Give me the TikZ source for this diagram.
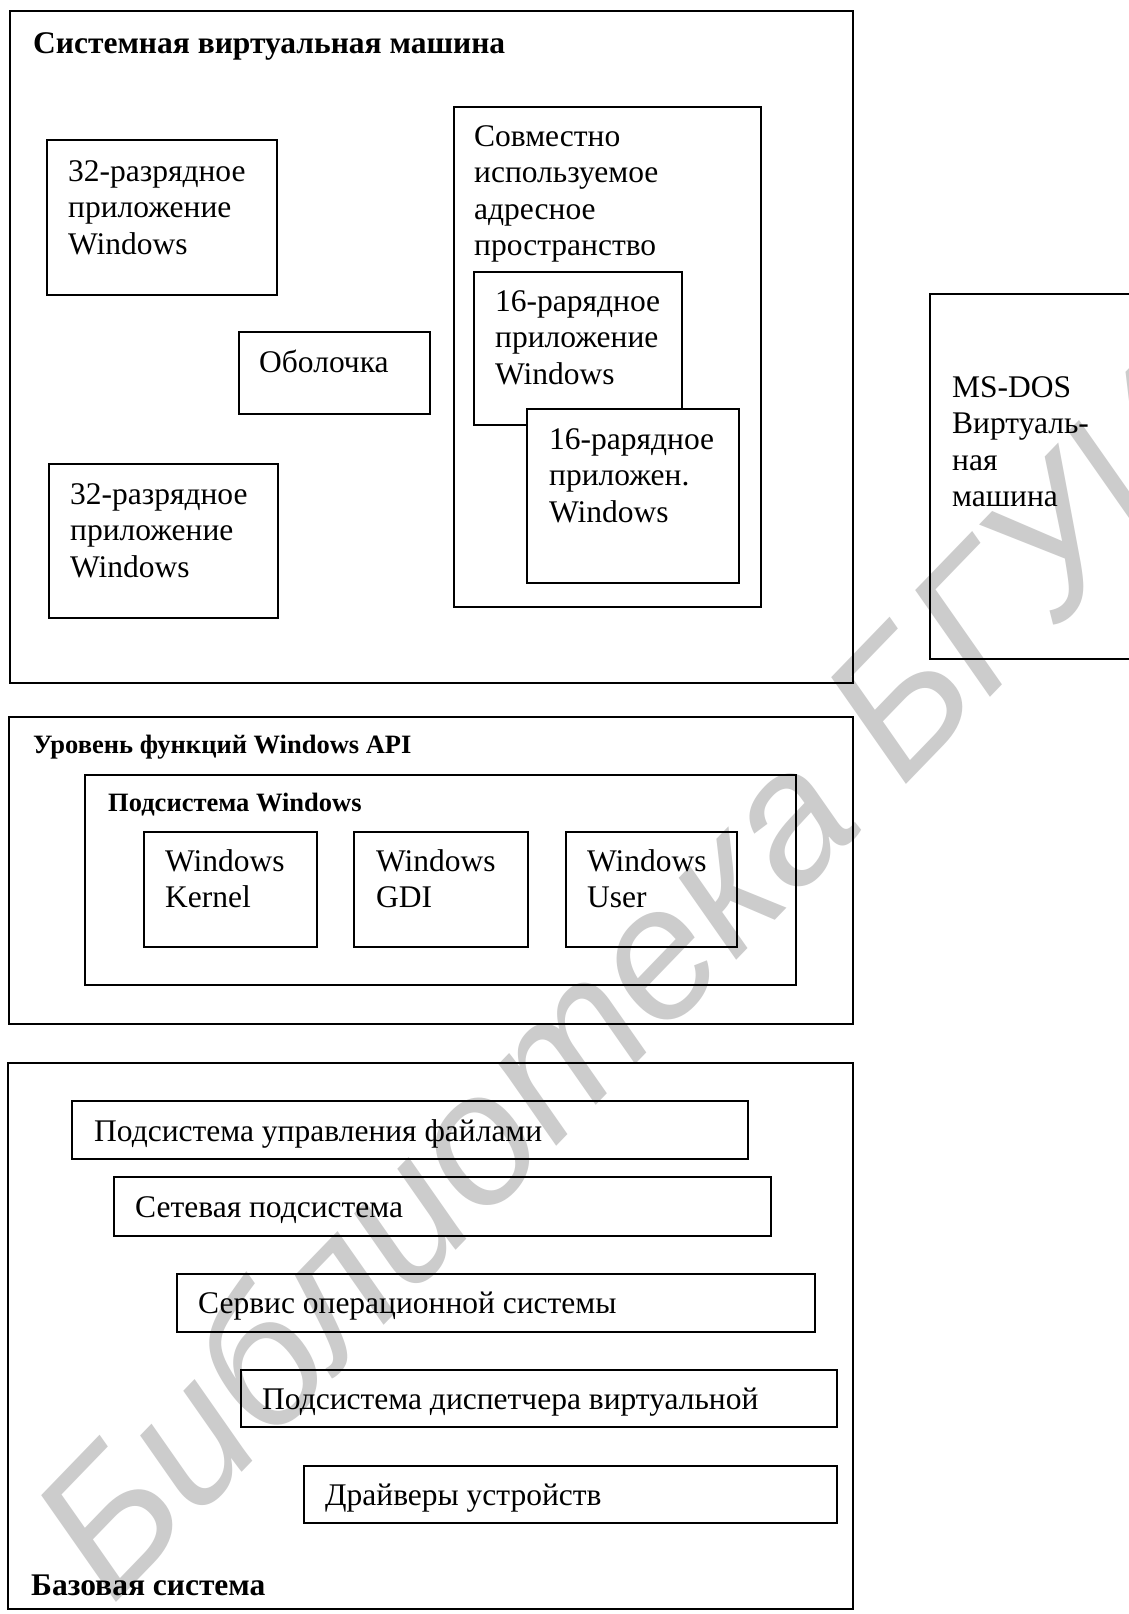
\documentclass[tikz,border=0pt]{standalone}
\usepackage{fontspec}
\setmainfont{Liberation Serif}
\newfontfamily\wmfont{Liberation Sans}
\usetikzlibrary{fit}
\newcommand{\mainfs}{\fontsize{31.5}{36.5}\selectfont}
\newcommand{\smallbf}{\bfseries\fontsize{26.5}{30}\selectfont}
\newcommand{\ml}[1]{\parbox[t]{400pt}{#1}}
\begin{document}
\begin{tikzpicture}[x=1pt,y=-1pt,
  box/.style={draw, line width=1.4pt, inner sep=0pt},
  txt/.style={anchor=base west, inner sep=0pt, font=\mainfs},
  ttl/.style={anchor=base west, inner sep=0pt, font=\bfseries\mainfs},
  sttl/.style={anchor=base west, inner sep=0pt, font=\smallbf},
  wmark/.style={anchor=base west, inner sep=0pt, text=black!20, rotate=46,
    font=\wmfont\itshape\fontsize{186}{186}\selectfont}]
\useasboundingbox (0,0) rectangle (1129,1614);
\fill[white] (0,0) rectangle (1129,1614);
% watermark
\node[wmark] (wm) at (112,1607) {Библиотека БГУИР};
% system virtual machine
\node[box, fit={(10,11) (853,683)}] (svm) {};
\node[box, fit={(47,140) (277,295)}] (a32) {};
\node[box, fit={(239,332) (430,414)}] (shell) {};
\node[box, fit={(49,464) (278,618)}] (b32) {};
\node[box, fit={(454,107) (761,607)}] (shared) {};
\node[box, fit={(474,272) (682,425)}] (a16) {};
\node[box, fill=white, fit={(527,409) (739,583)}] (b16) {};
\node[box, fit={(930,294) (1140,659)}] (dos) {};
% API level
\node[box, fit={(9,717) (853,1024)}] (api) {};
\node[box, fit={(85,775) (796,985)}] (sub) {};
\node[box, fit={(144,832) (317,947)}] (kern) {};
\node[box, fit={(354,832) (528,947)}] (gdi) {};
\node[box, fit={(566,832) (737,947)}] (user) {};
% base system
\node[box, fit={(8,1063) (853,1609)}] (base) {};
\node[box, fit={(72,1101) (748,1159)}] (files) {};
\node[box, fit={(114,1177) (771,1236)}] (net) {};
\node[box, fit={(177,1274) (815,1332)}] (serv) {};
\node[box, fit={(241,1370) (837,1427)}] (vmm) {};
\node[box, fit={(304,1466) (837,1523)}] (drv) {};
% texts
\node[ttl] (svmt) at (33,53) {Системная виртуальная машина};
\node[txt] (a32t) at (68,181) {\ml{32-разрядное\\приложение\\Windows}};
\node[txt] (shellt) at (259,372) {Оболочка};
\node[txt] (b32t) at (70,504) {\ml{32-разрядное\\приложение\\Windows}};
\node[txt] (sharedt) at (474,146) {\ml{Совместно\\используемое\\адресное\\пространство}};
\node[txt] (a16t) at (495,311) {\ml{16-рарядное\\приложение\\Windows}};
\node[txt] (b16t) at (549,449) {\ml{16-рарядное\\приложен.\\Windows}};
\node[txt] (dost) at (952,397) {\ml{MS-DOS\\Виртуаль-\\ная\\машина}};
\node[sttl] (apit) at (33,753) {Уровень функций Windows API};
\node[sttl] (subt) at (108,811) {Подсистема Windows};
\node[txt] (kernt) at (165,871) {\ml{Windows\\Kernel}};
\node[txt] (gdit) at (376,871) {\ml{Windows\\GDI}};
\node[txt] (usert) at (587,871) {\ml{Windows\\User}};
\node[txt] (filest) at (94,1141) {Подсистема управления файлами};
\node[txt] (nett) at (135,1217) {Сетевая подсистема};
\node[txt] (servt) at (198,1313) {Сервис операционной системы};
\node[txt] (vmmt) at (262,1409) {Подсистема диспетчера виртуальной};
\node[txt] (drvt) at (325,1505) {Драйверы устройств};
\node[ttl] (baset) at (31,1595) {Базовая система};
\end{tikzpicture}
\end{document}
